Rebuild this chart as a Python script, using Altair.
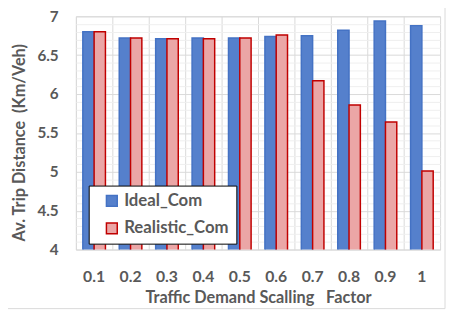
import altair as alt
import pandas as pd

factors = ["0.1", "0.2", "0.3", "0.4", "0.5", "0.6", "0.7", "0.8", "0.9", "1"]
ideal = [6.80, 6.72, 6.71, 6.72, 6.72, 6.74, 6.75, 6.82, 6.94, 6.88]
realistic = [6.80, 6.72, 6.71, 6.71, 6.72, 6.76, 6.17, 5.86, 5.64, 5.01]
series = ["Ideal_Com", "Realistic_Com"]
y_ticks = [round(4 + 0.1 * i, 1) for i in range(31)]

rows = []
for f, a, b in zip(factors, ideal, realistic):
    rows.append({"factor": f, "series": series[0], "value": a})
    rows.append({"factor": f, "series": series[1], "value": b})
df = pd.DataFrame(rows)

FONT = "Lato"
TXT = "#595959"

bars = alt.Chart(df).mark_bar(strokeWidth=1.5, clip=True).encode(
    x=alt.X(
        "factor:N",
        sort=factors,
        scale=alt.Scale(paddingInner=0, paddingOuter=0),
        axis=alt.Axis(
            title="Traffic Demand Scalling\u00a0\u00a0 Factor",
            labelAngle=0,
            ticks=False,
            domain=False,
            grid=True,
            bandPosition=0,
            gridColor="#D9D9D9",
            gridWidth=1,
            labelPadding=19,
            titlePadding=6,
            labelFontSize=16,
        ),
    ),
    xOffset=alt.XOffset(
        "series:N",
        sort=series,
        scale=alt.Scale(paddingInner=0, paddingOuter=0.61),
    ),
    y=alt.Y(
        "value:Q",
        scale=alt.Scale(domain=[4, 7], nice=False, zero=False),
        axis=alt.Axis(
            title="Av. Trip Distance\u00a0 (Km/Veh)",
            values=y_ticks,
            ticks=False,
            domain=False,
            labelExpr="abs(round(datum.value*2)-datum.value*2) < 0.001 ? format(datum.value, '.2~f') : ''",
            gridColor={
                "condition": {
                    "test": "abs(round(datum.value*2)-datum.value*2) < 0.001",
                    "value": "#D9D9D9",
                },
                "value": "#EFEFEF",
            },
            labelPadding=18,
            labelFontSize=15.5,
            titlePadding=10,
            titleY=128,
        ),
    ),
    fill=alt.Fill(
        "series:N",
        sort=series,
        scale=alt.Scale(domain=series, range=["#5580CC", "#EBA6A6"]),
        legend=alt.Legend(
            title=None,
            orient="none",
            legendX=13,
            legendY=172,
            fillColor="white",
            strokeColor="black",
            padding=7,
            symbolOffset=8,
            rowPadding=10,
            symbolType="square",
            symbolSize=121,
            symbolStrokeWidth=1.5,
            labelFontSize=17,
            labelFont=FONT,
            labelFontWeight="bold",
            labelColor=TXT,
        ),
    ),
    stroke=alt.Stroke(
        "series:N",
        sort=series,
        scale=alt.Scale(domain=series, range=["#4472C4", "#C00000"]),
        legend=None,
    ),
)

border = alt.Chart(pd.DataFrame({"k": [0]})).mark_rect(
    fill=None, stroke="#D9D9D9", strokeWidth=1
).encode(
    x=alt.value(-76), x2=alt.value(375), y=alt.value(-13), y2=alt.value(297)
)

chart = alt.layer(bars, border).properties(
    width=370,
    height=237,
    autosize=alt.AutoSizeParams(type="none"),
    padding={"left": 69, "top": 6, "right": 6, "bottom": 61},
).configure_view(
    stroke="#D9D9D9"
).configure_axis(
    labelFont=FONT,
    labelFontWeight="bold",
    labelColor=TXT,
    titleFont=FONT,
    titleFontSize=16.5,
    titleFontWeight="bold",
    titleColor=TXT,
)

chart.save("out.html", embed_options={"renderer": "svg", "actions": False})
